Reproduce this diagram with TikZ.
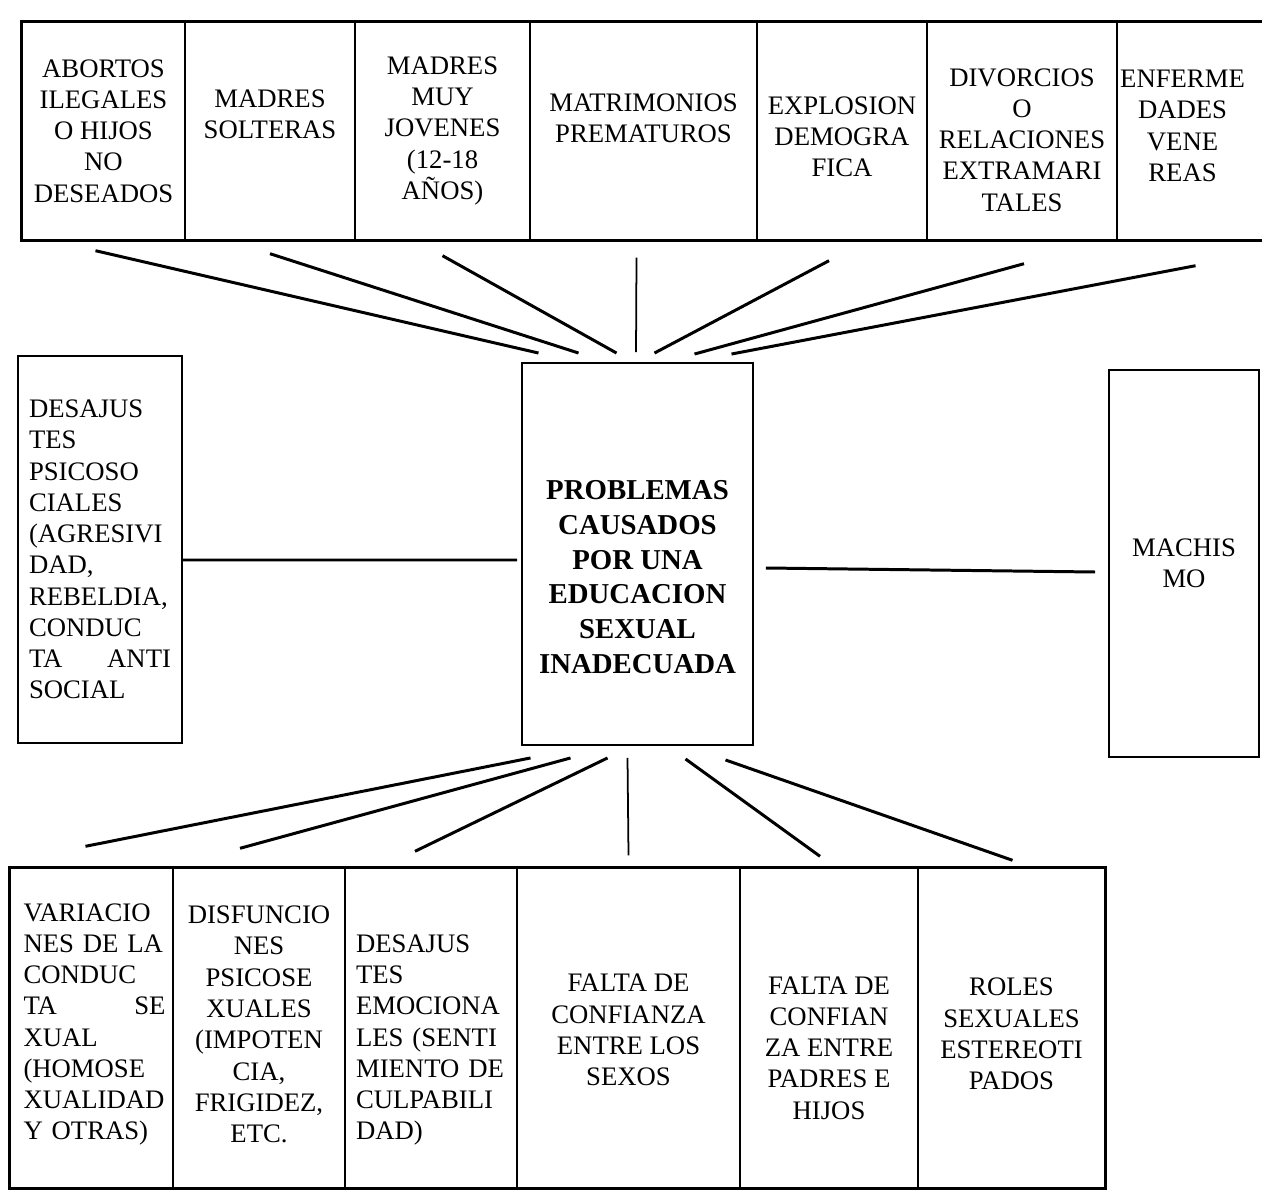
\documentclass[tikz,border=0pt]{standalone}
\usepackage{fontspec}
\setmainfont{Liberation Serif}
\usepackage{tikz}
\usetikzlibrary{positioning}

\begin{document}
\begin{tikzpicture}[ celda/.style={draw, line width=0.8pt, minimum
      height=4.36cm, inner sep=0pt}, celdab/.style={draw, line width=0.8pt,
      minimum height=6.4cm, inner sep=0pt}, caja/.style={draw, line
      width=1.1pt, inner sep=0pt}, marco/.style={line width=2pt},
      conector/.style={line width=1.7pt}, texto/.style={inner sep=0pt,
      align=center, font=\fontsize{15.2pt}{17.8pt}\selectfont},
      textoizq/.style={texto, text width=2.84cm, align=left},
      titulo/.style={inner sep=0pt, align=center,
      font=\fontsize{16.4pt}{19.8pt}\selectfont\bfseries} ]

    \useasboundingbox (0,0) rectangle (25.24,23.8);

    % Top row of consequences
    \node[celda, minimum width=3.26cm] (abortos) at (2.07,21.18) {};
    \node[celda, minimum width=3.4cm] (solteras) at (5.4,21.18) {};
    \node[celda, minimum width=3.5cm] (jovenes) at (8.85,21.18) {};
    \node[celda, minimum width=4.54cm] (matrimonios) at (12.87,21.18) {};
    \node[celda, minimum width=3.4cm] (explosion) at (16.84,21.18) {};
    \node[celda, minimum width=3.8cm] (divorcios) at (20.44,21.18) {};
    \node[celda, minimum width=3.02cm] (enfermedades) at (23.85,21.18) {};
    \draw[marco] (abortos.north west) rectangle (enfermedades.south east);

    % Labels for the top row
    \node[texto] (abortosL) at (abortos) {ABORTOS\\ILEGALES\\O HIJOS\\NO\\DESEADOS};
    \node[texto] (solterasL) at ([yshift=0.34cm]solteras) {MADRES\\SOLTERAS};
    \node[texto] (jovenesL) at (jovenes) {MADRES\\MUY\\JOVENES\\(12-18\\AÑOS)};
    \node[texto] (matrimoniosL) at ([yshift=0.26cm]matrimonios) {MATRIMONIOS\\PREMATUROS};
    \node[texto] (explosionL) at ([yshift=-0.12cm]explosion) {EXPLOSION\\DEMOGRA\\FICA};
    \node[texto] (divorciosL) at ([yshift=-0.18cm]divorcios) {DIVORCIOS\\O\\RELACIONES\\EXTRAMARI\\TALES};
    \node[texto] (enfermedadesL) at ([xshift=-0.2cm, yshift=0.1cm]enfermedades) {ENFERME\\DADES\\VENE\\REAS};

    % Middle boxes
    \node[caja, minimum width=3.28cm, minimum height=7.74cm] (psicosociales) at (2.0,12.81) {};
    \node[caja, minimum width=4.62cm, minimum height=7.64cm] (problemas) at (12.75,12.72) {};
    \node[caja, minimum width=3.0cm, minimum height=7.74cm] (machismo) at (23.68,12.53) {};

    \node[textoizq] (psicosocialesL) at (psicosociales) {DESAJUS\\TES\\PSICOSO\\CIALES\\(AGRESIVI\\DAD,\\REBELDIA,\\CONDUC\\TA\hfill ANTI\\SOCIAL};
    \node[titulo] (problemasL) at ([yshift=-0.46cm]problemas) {PROBLEMAS\\CAUSADOS\\POR UNA\\EDUCACION\\SEXUAL\\INADECUADA};
    \node[texto] (machismoL) at (machismo) {MACHIS\\MO};

    % Bottom row of consequences
    \node[celdab, minimum width=3.26cm] (variaciones) at (1.83,3.24) {};
    \node[celdab, minimum width=3.44cm] (disfunciones) at (5.18,3.24) {};
    \node[celdab, minimum width=3.44cm] (emocionales) at (8.62,3.24) {};
    \node[celdab, minimum width=4.46cm] (sexos) at (12.57,3.24) {};
    \node[celdab, minimum width=3.56cm] (padres) at (16.58,3.24) {};
    \node[celdab, minimum width=3.74cm] (roles) at (20.23,3.24) {};
    \draw[marco] (variaciones.north west) rectangle (roles.south east);

    % Labels for the bottom row
    \node[textoizq] (variacionesL) at ([xshift=0.06cm, yshift=0.07cm]variaciones) {VARIACIO\\NES DE LA\\CONDUC\\TA\hfill SE\\XUAL\\(HOMOSE\\XUALIDAD\\Y OTRAS)};
    \node[texto] (disfuncionesL) at ([yshift=0.07cm]disfunciones) {DISFUNCIO\\NES\\PSICOSE\\XUALES\\(IMPOTEN\\CIA,\\FRIGIDEZ,\\ETC.};
    \node[textoizq, text width=3.0cm] (emocionalesL) at ([yshift=-0.24cm]emocionales) {DESAJUS\\TES\\EMOCIONA\\LES (SENTI\\MIENTO DE\\CULPABILI\\DAD)};
    \node[texto] (sexosL) at ([yshift=-0.04cm]sexos) {FALTA DE\\CONFIANZA\\ENTRE LOS\\SEXOS};
    \node[texto] (padresL) at ([yshift=-0.4cm]padres) {FALTA DE\\CONFIAN\\ZA ENTRE\\PADRES E\\HIJOS};
    \node[texto] (rolesL) at ([yshift=-0.12cm]roles) {ROLES\\SEXUALES\\ESTEREOTI\\PADOS};

    % Connectors to the top row
    \draw[conector] ([xshift=-0.16cm, yshift=-0.2cm]abortos.south) -- ([xshift=-1.98cm, yshift=0.18cm]problemas.north);
    \draw[conector] ([yshift=-0.26cm]solteras.south) -- ([xshift=-1.18cm, yshift=0.18cm]problemas.north);
    \draw[conector] ([yshift=-0.3cm]jovenes.south) -- ([xshift=-0.42cm, yshift=0.18cm]problemas.north);
    \draw[line width=1pt] ([xshift=-0.14cm, yshift=-0.34cm]matrimonios.south) -- ([xshift=-0.03cm, yshift=0.2cm]problemas.north);
    \draw[conector] ([xshift=-0.26cm, yshift=-0.4cm]explosion.south) -- ([xshift=0.34cm, yshift=0.18cm]problemas.north);
    \draw[conector] ([xshift=0.04cm, yshift=-0.46cm]divorcios.south) -- ([xshift=1.14cm, yshift=0.16cm]problemas.north);
    \draw[conector] ([xshift=0.06cm, yshift=-0.5cm]enfermedades.south) -- ([xshift=1.88cm, yshift=0.16cm]problemas.north);

    % Side connectors
    \draw[conector] ([yshift=-0.21cm]psicosociales.east) -- ([xshift=-0.08cm, yshift=-0.12cm]problemas.west);
    \draw[conector] ([xshift=0.24cm, yshift=-0.28cm]problemas.east) -- ([xshift=-0.26cm, yshift=-0.17cm]machismo.west);

    % Connectors to the bottom row
    \draw[conector] ([xshift=-2.14cm, yshift=-0.24cm]problemas.south) -- ([xshift=-0.12cm, yshift=0.42cm]variaciones.north);
    \draw[conector] ([xshift=-1.34cm, yshift=-0.24cm]problemas.south) -- ([xshift=-0.38cm, yshift=0.38cm]disfunciones.north);
    \draw[conector] ([xshift=-0.6cm, yshift=-0.24cm]problemas.south) -- ([xshift=-0.32cm, yshift=0.32cm]emocionales.north);
    \draw[line width=1pt] ([xshift=-0.2cm, yshift=-0.24cm]problemas.south) -- ([yshift=0.24cm]sexos.north);
    \draw[conector] ([xshift=0.96cm, yshift=-0.26cm]problemas.south) -- ([xshift=-0.18cm, yshift=0.22cm]padres.north);
    \draw[conector] ([xshift=1.76cm, yshift=-0.28cm]problemas.south) -- ([xshift=0.02cm, yshift=0.14cm]roles.north);

\end{tikzpicture}
\end{document}
